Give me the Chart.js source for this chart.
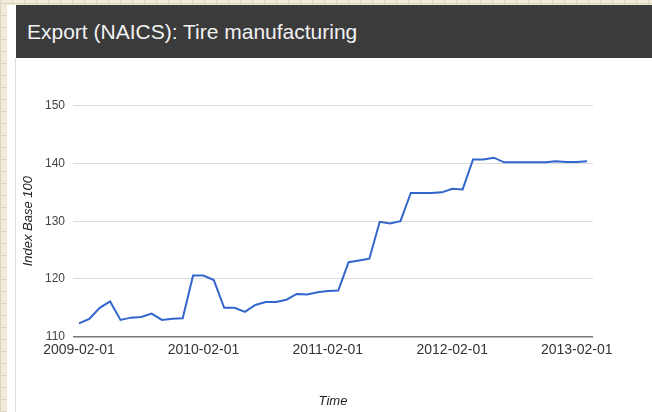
<!DOCTYPE html>
<html>
<head>
<meta charset="utf-8">
<script src="https://cdn.jsdelivr.net/npm/chart.js@4"></script>
<style>
  html, body { margin: 0; padding: 0; }
  body {
    width: 652px; height: 412px; overflow: hidden; position: relative;
    background-color: #f1ebdc;
    background-image:
      repeating-linear-gradient(90deg, #ddd5c3 0 1px, transparent 1px 12px),
      repeating-linear-gradient(0deg, #ddd5c3 0 1px, transparent 1px 12px);
    font-family: "Liberation Sans", Arial, sans-serif;
  }
  #card { position: absolute; left: 7px; top: 5px; right: 0; bottom: 0; background: #fff; }
  #edge { position: absolute; left: 15px; top: 58px; width: 1px; bottom: 0; background: #dcdcdc; }
  #header {
    position: absolute; left: 16px; top: 5px; right: 0; height: 53px;
    background: #3b3b3b; color: #f2f2f2; font-size: 21px;
    line-height: 53px; padding-left: 11px; box-sizing: border-box;
  }
  #wrap { position: absolute; left: 16px; top: 58px; width: 636px; height: 354px; }
</style>
</head>
<body>
<div id="card"></div>
<div id="edge"></div>
<div id="header">Export (NAICS): Tire manufacturing</div>
<div id="wrap"><canvas id="chart"></canvas></div>
<script>
const months = [
  "2009-02-01", "2009-03-01", "2009-04-01", "2009-05-01", "2009-06-01", "2009-07-01",
  "2009-08-01", "2009-09-01", "2009-10-01", "2009-11-01", "2009-12-01", "2010-01-01",
  "2010-02-01", "2010-03-01", "2010-04-01", "2010-05-01", "2010-06-01", "2010-07-01",
  "2010-08-01", "2010-09-01", "2010-10-01", "2010-11-01", "2010-12-01", "2011-01-01",
  "2011-02-01", "2011-03-01", "2011-04-01", "2011-05-01", "2011-06-01", "2011-07-01",
  "2011-08-01", "2011-09-01", "2011-10-01", "2011-11-01", "2011-12-01", "2012-01-01",
  "2012-02-01", "2012-03-01", "2012-04-01", "2012-05-01", "2012-06-01", "2012-07-01",
  "2012-08-01", "2012-09-01", "2012-10-01", "2012-11-01", "2012-12-01", "2013-01-01",
  "2013-02-01", "2013-03-01"
];
const indexValues = [
  112.3, 113.1, 115.0, 116.1, 112.9, 113.3, 113.4, 114.0, 112.9, 113.1, 113.2, 120.6,
  120.6, 119.8, 115.0, 115.0, 114.3, 115.5, 116.0, 116.0, 116.4, 117.4, 117.3, 117.7,
  117.9, 118.0, 122.9, 123.2, 123.5, 129.9, 129.6, 130.0, 134.9, 134.9, 134.9, 135.0,
  135.6, 135.5, 140.7, 140.7, 141.0, 140.2, 140.2, 140.2, 140.2, 140.2, 140.4, 140.25,
  140.25, 140.4
];
const xTickLabels = ["2009-02-01", "2010-02-01", "2011-02-01", "2012-02-01", "2013-02-01"];
const yTicks = [110, 120, 130, 140, 150];

const titleFont = { family: "Liberation Sans", size: 13, style: "italic", lineHeight: 1.2 };

new Chart(document.getElementById("chart"), {
  type: "line",
  data: {
    datasets: [{
      label: "Index Base 100",
      data: indexValues.map((v, i) => ({ x: i, y: v })),
      borderColor: "#3366cc",
      borderWidth: 2,
      pointRadius: 0,
      tension: 0,
      fill: false
    }]
  },
  options: {
    responsive: true,
    maintainAspectRatio: false,
    animation: false,
    layout: { padding: { left: 0, right: 59, top: 47.7, bottom: 0 } },
    plugins: { legend: { display: false }, tooltip: { enabled: false } },
    scales: {
      x: {
        type: "linear",
        min: -0.58,
        max: 49.57,
        afterBuildTicks: s => {
          s.ticks = xTickLabels.map(l => ({ value: months.indexOf(l) }));
        },
        afterFit: s => { s.height = 75.3; },
        ticks: {
          autoSkip: false, maxRotation: 0, padding: 5,
          color: "#333", font: { family: "Liberation Sans", size: 14 },
          callback: v => months[v]
        },
        grid: { display: false, drawTicks: false },
        border: { display: false },
        title: { display: true, text: "Time", color: "#222", font: titleFont, padding: { top: 0, bottom: 3.2 } }
      },
      y: {
        min: 110,
        max: 150,
        afterBuildTicks: s => { s.ticks = yTicks.map(v => ({ value: v })); },
        afterFit: s => { s.width = 57; },
        ticks: { padding: 8, color: "#444", font: { family: "Liberation Sans", size: 12 } },
        grid: {
          drawTicks: false,
          color: c => c.tick && c.tick.value === 110 ? "#777" : "#dcdcdc",
          lineWidth: c => c.tick && c.tick.value === 110 ? 1.5 : 1
        },
        border: { display: false },
        title: { display: true, text: "Index Base 100", color: "#222", font: titleFont, padding: { top: 5, bottom: 0 } }
      }
    }
  }
});
</script>
</body>
</html>
